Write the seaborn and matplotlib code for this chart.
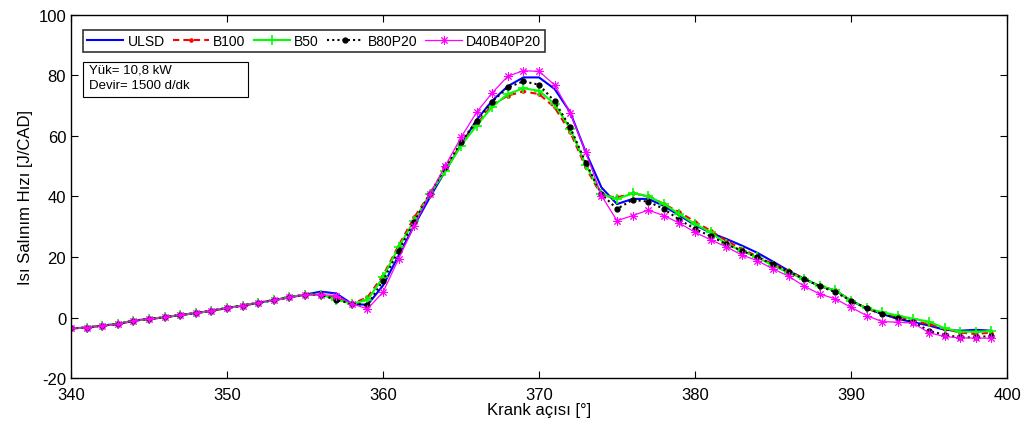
import numpy as np
import pandas as pd
import seaborn as sns
import matplotlib
matplotlib.use('Agg')
import matplotlib.pyplot as plt
from matplotlib.patches import Rectangle

# crank angle, one value per degree
krank = list(range(340, 400))

ortak = [-3.5, -3.3, -2.6, -2.1, -1.0, -0.4, 0.1, 0.9, 1.5, 2.3, 3.2, 4.0, 4.9, 5.8, 6.7, 7.6]

ulsd = ortak + [8.6, 8.0, 4.6, 4.2, 10.6, 20.5, 30.4, 39.7, 48.5, 57.0, 65.3, 71.6, 76.4, 79.3, 79.3,
                75.5, 67.8, 54.6, 43.0, 37.5, 39.2, 39.2, 36.9, 33.7, 30.6, 28.0, 26.0, 23.8, 21.4,
                18.5, 15.5, 12.8, 10.4, 9.0, 5.6, 3.1, 1.2, -0.4, -1.5, -2.6, -4.0, -4.3, -4.0, -4.3]
b100 = ortak + [7.6, 6.5, 4.6, 6.7, 13.9, 23.8, 33.1, 40.8, 49.0, 57.3, 63.9, 70.2, 73.3, 74.7, 73.8,
                69.4, 61.2, 49.6, 40.3, 39.7, 41.0, 40.2, 37.5, 34.8, 31.7, 28.7, 25.4, 22.7, 20.2,
                17.7, 15.5, 12.8, 10.4, 9.0, 5.6, 3.1, 1.2, 0.5, -1.0, -2.1, -3.7, -4.9, -5.4, -4.9]
b50 = ortak + [7.6, 6.0, 4.6, 5.8, 13.3, 23.2, 32.0, 40.8, 48.5, 56.8, 63.4, 69.6, 73.8, 75.7, 74.9,
               70.5, 62.3, 50.4, 40.8, 39.2, 41.0, 40.1, 37.5, 34.2, 30.9, 28.2, 24.3, 22.1, 19.9,
               17.2, 14.8, 12.8, 10.4, 9.0, 5.6, 3.1, 1.8, 0.7, -0.4, -1.3, -3.5, -4.6, -4.6, -4.5]
b80p20 = ortak + [7.6, 5.9, 4.6, 4.2, 12.2, 22.1, 31.7, 40.8, 49.6, 57.9, 65.0, 71.3, 76.0, 78.0, 76.9,
                  71.4, 62.8, 51.1, 40.8, 35.9, 38.9, 38.3, 35.9, 32.3, 29.3, 26.9, 24.3, 22.1, 19.9,
                  17.7, 15.0, 12.8, 10.4, 8.4, 5.6, 3.1, 1.2, -0.2, -1.5, -4.3, -5.7, -6.5, -6.5, -6.0]
d40b40p20 = ortak + [7.6, 7.3, 4.6, 2.9, 8.4, 19.4, 30.4, 40.8, 50.2, 59.5, 67.8, 74.2, 79.7, 81.5, 81.3,
                     76.8, 67.6, 54.6, 40.3, 32.0, 33.7, 35.5, 33.7, 31.2, 28.2, 25.7, 23.4, 20.7, 18.8,
                     16.1, 13.7, 10.4, 7.8, 6.2, 3.4, 0.7, -1.3, -1.5, -1.8, -5.0, -6.2, -6.7, -6.7, -6.8]

seriler = {'ULSD': ulsd, 'B100': b100, 'B50': b50, 'B80P20': b80p20, 'D40B40P20': d40b40p20}

# (color, linestyle, linewidth, marker, markersize, markeredgewidth)
stiller = {
    'ULSD':      ('#0000ff', '-',          1.5, '',        0, 0),
    'B100':      ('#ff0000', (0, (3, 2)),  1.5, '.',       4.5, 1),
    'B50':       ('#00ff00', '-',          1.5, '+',       6.5, 1.2),
    'B80P20':    ('black',   (0, (1, 1.5)), 1.5, '.',      7, 1),
    'D40B40P20': ('#ff00ff', '-',          0.9, (8, 2, 0), 6, 0.7),
}

plt.rcParams['font.family'] = ['Liberation Sans', 'DejaVu Sans']
plt.rcParams['axes.unicode_minus'] = False
plt.rcParams['xtick.direction'] = 'in'
plt.rcParams['ytick.direction'] = 'in'

fig = plt.figure(figsize=(10.32, 4.31), dpi=100)
ax = fig.add_axes([0.0688, 0.12, 0.9070, 0.8436])

for ad, deger in seriler.items():
    df = pd.DataFrame({'krank': krank, 'hiz': deger})
    renk, ls, lw, mk, ms, mew = stiller[ad]
    sns.lineplot(data=df, x='krank', y='hiz', ax=ax, label=ad, color=renk)
    ln = ax.lines[-1]
    ln.set_linestyle(ls)
    ln.set_linewidth(lw)
    ln.set_marker(mk)
    ln.set_markersize(ms)
    ln.set_markeredgewidth(mew)
    ln.set_markeredgecolor(renk)
    ln.set_markerfacecolor(renk)

ax.set_xlim(340, 400)
ax.set_ylim(-20, 100)
ax.set_xticks(range(340, 401, 10))
ax.set_yticks(range(-20, 101, 20))
ax.tick_params(labelsize=12, top=True, right=True, length=5, width=0.8)
ax.tick_params(axis='x', pad=6)
for s in ax.spines.values():
    s.set_linewidth(1.0)
ax.set_xlabel('Krank açısı [°]', fontsize=12, labelpad=0)
ax.set_ylabel('Isı Salınım Hızı [J/CAD]', fontsize=12, labelpad=4)

leg = ax.legend(loc='upper left', bbox_to_anchor=(0.0128, 0.958), ncol=5, fontsize=10,
                frameon=True, fancybox=False, edgecolor='black', handlelength=2.6,
                columnspacing=0.6, handletextpad=0.3, borderpad=0.3, borderaxespad=0)
leg.get_frame().set_linewidth(1.2)

# load / speed box
ax.add_patch(Rectangle((0.0128, 0.774), 0.176, 0.096, transform=ax.transAxes,
                       fc='white', ec='black', lw=0.8, zorder=5))
ax.text(0.0195, 0.866, 'Yük= 10,8 kW\nDevir= 1500 d/dk', transform=ax.transAxes,
        fontsize=9.5, va='top', ha='left', linespacing=1.45, zorder=6)

plt.savefig('out.png', dpi=100)
plt.close(fig)
